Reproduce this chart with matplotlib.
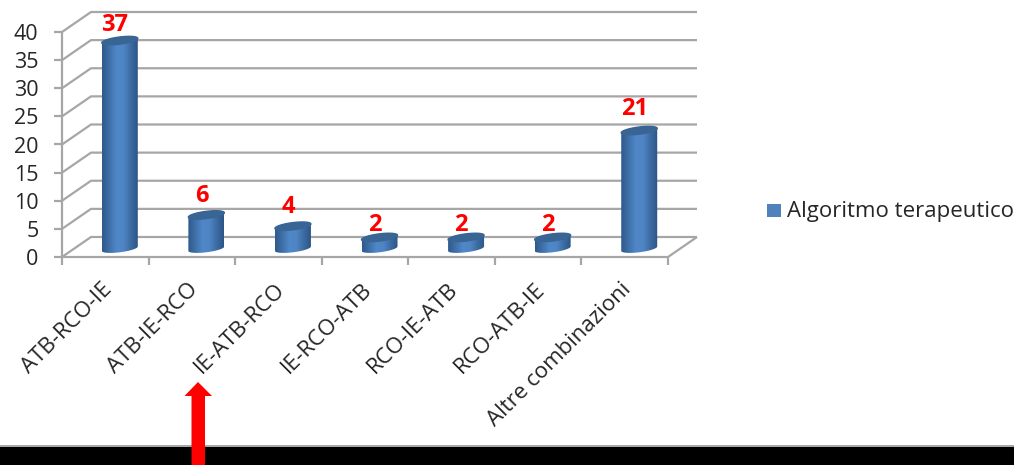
import numpy as np
import matplotlib
matplotlib.use("Agg")
import matplotlib.pyplot as plt
from matplotlib.colors import LinearSegmentedColormap
from matplotlib.patches import Polygon, Rectangle
from matplotlib.transforms import ScaledTranslation

categories = ["ATB-RCO-IE", "ATB-IE-RCO", "IE-ATB-RCO", "IE-RCO-ATB",
              "RCO-IE-ATB", "RCO-ATB-IE", "Altre combinazioni"]
values = [37, 6, 4, 2, 2, 2, 21]
y_ticks = [0, 5, 10, 15, 20, 25, 30, 35, 40]
series_name = "Algoritmo terapeutico"

W, H = 1014, 465
# front plane of the fake 3D box, in pixels
LEFT, RIGHT, TOP, BOTTOM = 62, 668, 32, 257
DEPTH_X, DEPTH_Y = 29, 20
GRID = "#a6a6a6"
TEXT = "#262626"

plt.rcParams["font.family"] = ["Open Sans", "DejaVu Sans"]

fig = plt.figure(figsize=(W / 100, H / 100), dpi=100, facecolor="white")
ax = fig.add_axes([LEFT / W, 1 - BOTTOM / H, (RIGHT - LEFT) / W, (BOTTOM - TOP) / H])
ax.set_xlim(0, len(categories))
ax.set_ylim(0, y_ticks[-1])
ax.patch.set_visible(False)
for spine in ax.spines.values():
    spine.set_visible(False)

# pixel sizes converted to data units
px_x = len(categories) / (RIGHT - LEFT)
px_y = y_ticks[-1] / (BOTTOM - TOP)
dx = DEPTH_X * px_x
dy = DEPTH_Y * px_y

# walls and floor
line_kw = dict(color=GRID, lw=1.6, clip_on=False, zorder=1, solid_capstyle="butt")
n = len(categories)
for t in y_ticks:
    ax.plot([0, dx, n + dx], [t, t + dy, t + dy], **line_kw)
ax.plot([0, 0], [0, y_ticks[-1]], **line_kw)
ax.plot([0, n, n + dx], [0, 0, dy], **line_kw)

ax.set_yticks(y_ticks)
ax.set_xticks(np.arange(n + 1), minor=True)
ax.set_xticks(np.arange(n) + 0.5)
ax.set_xticklabels(categories, rotation=45, ha="right", rotation_mode="anchor")
ax.tick_params(axis="x", which="major", length=0, pad=16, labelsize=16, labelcolor=TEXT)
ax.tick_params(axis="x", which="minor", length=6, width=1.6, color=GRID)
ax.tick_params(axis="y", length=6, width=1.6, color=GRID, pad=11, labelsize=15.5, labelcolor=TEXT)

# nudge the rotated labels a bit left of the category centre
nudge = ScaledTranslation(-4 / 100, 0, fig.dpi_scale_trans)
for label in ax.get_xticklabels():
    label.set_transform(label.get_transform() + nudge)

# cylinders
shade = LinearSegmentedColormap.from_list(
    "cyl", ["#2f5a8c", "#3f70a8", "#5087c8", "#4f85c4", "#3d6ca3", "#2c5687"])
half_w = 18 * px_x
half_h = 3.6 * px_y
tilt = 2.2 * px_y / (18 * px_x)
ang = np.linspace(0, 2 * np.pi, 80)
cos_a, sin_a = np.cos(ang), np.sin(ang)

label_dy = [23.5, 27, 28, 20.5, 20.5, 20.5, 30]
for i, v in enumerate(values):
    cx = i + 0.5 + dx / 2
    base = dy / 2 - 0.3
    top = v + dy / 2 - 0.3
    ex = cx + half_w * cos_a
    off = half_h * sin_a + tilt * half_w * cos_a
    lower = (ang >= np.pi)
    # outline: lower half of base ellipse, then upper half of top ellipse
    body = np.vstack([
        np.column_stack([ex[lower], base + off[lower]]),
        np.column_stack([ex[~lower], top + off[~lower]]),
    ])
    poly = Polygon(body, closed=True, transform=ax.transData, fc="none", ec="none")
    ax.add_patch(poly)
    im = ax.imshow(np.linspace(0, 1, 64)[None, :], cmap=shade, aspect="auto",
                   extent=[cx - half_w, cx + half_w, base - 2 * half_h, top + 2 * half_h],
                   zorder=3, clip_on=True)
    im.set_clip_path(poly)
    ax.fill(ex, top + off, color="#386594", zorder=4, clip_on=False)
    ax.annotate(str(v), (i + 0.5, v), xytext=(7, label_dy[i] * 0.72),
                textcoords="offset points", ha="center", va="center",
                color="#ff0000", fontweight="bold", fontsize=17, zorder=5,
                annotation_clip=False)
ax.set_xlim(0, n)
ax.set_ylim(0, y_ticks[-1])

# legend swatch and text placed by hand, the matplotlib handle came out too big
fig.patches.append(Rectangle((767 / W, 1 - 217 / H), 14 / W, 13 / H, transform=fig.transFigure,
                             fc="#4f81bd", ec="none"))
fig.text(787 / W, 1 - 211.5 / H, series_name, ha="left", va="center", fontsize=16, color=TEXT)

# black band and red arrow along the bottom, pixel coordinates
over = fig.add_axes([0, 0, 1, 1], zorder=5)
over.set_xlim(0, W)
over.set_ylim(H, 0)
over.axis("off")
over.add_patch(Rectangle((0, 444.5), W, 2, fc="#a8a8a8", ec="none"))
over.add_patch(Rectangle((0, 446.5), W, H - 446.5, fc="black", ec="none"))
over.add_patch(Polygon([(198, 382), (212, 396), (205, 396), (205, 465), (191.5, 465),
                        (191.5, 396), (184.5, 396)], closed=True, fc="#ff0000", ec="none"))

fig.savefig("out.png", dpi=100)
